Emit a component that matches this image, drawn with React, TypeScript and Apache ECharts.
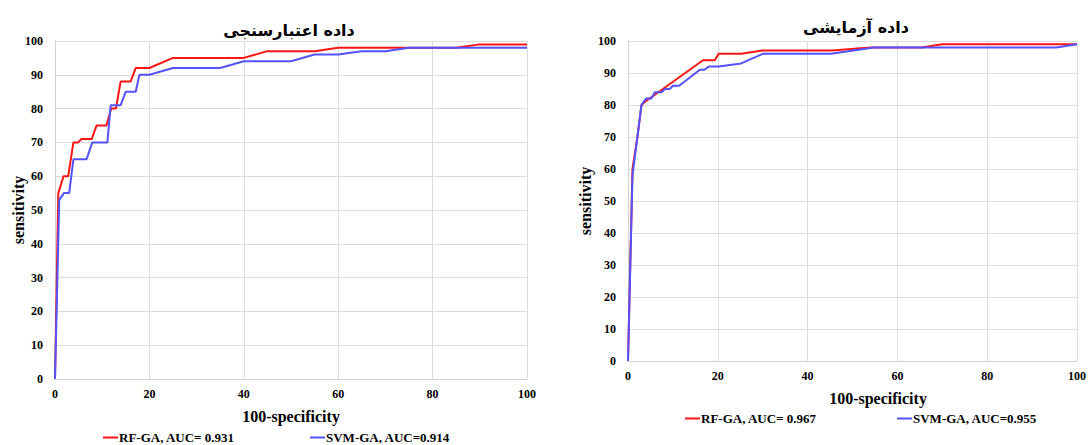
import React, { useEffect, useRef } from "react";
import * as echarts from "echarts";

const xTicks = [0, 20, 40, 60, 80, 100];
const titles = ["داده اعتبارسنجی", "داده آزمایشی"];
const xTitle = "100-specificity";
const yTitle = "sensitivity";

const seriesNames = [
  "RF-GA, AUC= 0.931",
  "SVM-GA, AUC=0.914",
  "RF-GA, AUC= 0.967",
  "SVM-GA, AUC=0.955",
];

// validation (left)
const rfValX = [0, 0.7, 1.8, 2.8, 3.9, 4.9, 5.6, 7.8, 8.8, 10.9, 11.9, 12.9, 13.9, 16, 17.1, 20, 25, 40, 45, 55, 60, 85, 90, 100];
const rfValY = [0, 55, 60, 60, 70, 70, 71, 71, 75, 75, 80, 80, 88, 88, 92, 92, 95, 95, 97, 97, 98, 98, 99, 99];
const svmValX = [0, 0.9, 1.9, 3, 3.9, 6.7, 7.9, 11.1, 11.8, 13.9, 15, 17.1, 17.9, 20, 25, 35, 40, 50, 55, 60, 65, 70, 75, 100];
const svmValY = [0, 53, 55, 55, 65, 65, 70, 70, 81, 81, 85, 85, 90, 90, 92, 92, 94, 94, 96, 96, 97, 97, 98, 98];

// test (right)
const rfTestX = [0, 1, 2.1, 3, 3.8, 16.7, 19.3, 20.2, 25.2, 30, 45.5, 54, 65.4, 70, 100];
const rfTestY = [0, 60, 70, 80, 81, 94, 94, 96, 96, 97, 97, 98, 98, 99, 99];
const svmTestX = [0, 1, 3, 4, 5.2, 6, 7.5, 8.2, 9.3, 10, 11.4, 16, 17, 18, 20.2, 25.2, 30, 45.2, 54.8, 95.4, 100];
const svmTestY = [0, 58, 80, 82, 82, 84, 84, 85, 85, 86, 86, 91, 91, 92, 92, 93, 96, 96, 98, 98, 99];

const RED = "#ff1414";
const BLUE = "#5252ff";
const SERIF = "'Liberation Serif', 'Times New Roman', serif";
const ARABIC = "'DejaVu Sans', sans-serif";

const zip = (xs: number[], ys: number[]) => xs.map((x, i) => [x, ys[i]]);

export default function App() {
  const ref = useRef<HTMLDivElement>(null);
  useEffect(() => {
    if (!ref.current) return;
    const chart = echarts.init(ref.current, null, { renderer: "svg" });
    const grids = [
      { left: 55, right: 562, top: 41, bottom: 66 },
      { left: 628, right: 10, top: 41, bottom: 84 },
    ];
    const mkX = (gi: number) => ({
      type: "value",
      gridIndex: gi,
      min: 0,
      max: 100,
      interval: 20,
      axisLine: { show: true, lineStyle: { color: "#d0d0d0" } },
      axisTick: { show: false },
      splitLine: { show: true, lineStyle: { color: "#dcdcdc" } },
      axisLabel: { color: "#000", fontFamily: SERIF, fontWeight: "bold", fontSize: 12, margin: 9 },
    });
    const mkY = (gi: number) => ({
      type: "value",
      gridIndex: gi,
      min: 0,
      max: 100,
      interval: 10,
      axisLine: { show: true, lineStyle: { color: "#d0d0d0" } },
      axisTick: { show: false },
      splitLine: { show: true, lineStyle: { color: "#dcdcdc" } },
      axisLabel: { color: "#000", fontFamily: SERIF, fontWeight: "bold", fontSize: 12, margin: 12 },
    });
    const mkSeries = (name: string, data: number[][], color: string, gi: number) => ({
      type: "line",
      name,
      xAxisIndex: gi,
      yAxisIndex: gi,
      data,
      showSymbol: false,
      symbol: "none",
      lineStyle: { color, width: 2 },
      itemStyle: { color },
    });
    const mkLegend = (name: string, left: number, top: number) => ({
      data: [name],
      left,
      top,
      icon: "rect",
      itemWidth: 15,
      itemHeight: 2,
      padding: 0,
      textStyle: { fontFamily: SERIF, fontWeight: "bold", fontSize: 13, color: "#000", padding: [0, 0, 0, -4] },
    });
    chart.setOption({
      animation: false,
      backgroundColor: "#fff",
      grid: grids,
      xAxis: [mkX(0), mkX(1)],
      yAxis: [mkY(0), mkY(1)],
      title: [
        { text: titles[0], left: 284, top: 17, textAlign: "center", textStyle: { fontFamily: ARABIC, fontWeight: "bold", fontSize: 16, color: "#000" } },
        { text: titles[1], left: 851, top: 14, textAlign: "center", textStyle: { fontFamily: ARABIC, fontWeight: "bold", fontSize: 16, color: "#000" } },
      ],
      legend: [
        mkLegend(seriesNames[0], 103, 431),
        mkLegend(seriesNames[1], 310, 431),
        mkLegend(seriesNames[2], 685, 412),
        mkLegend(seriesNames[3], 897, 412),
      ],
      graphic: [
        { type: "text", x: 291, y: 416, style: { text: xTitle, align: "center", verticalAlign: "middle", font: `bold 16px ${SERIF}`, fill: "#000" } },
        { type: "text", x: 878, y: 398, style: { text: xTitle, align: "center", verticalAlign: "middle", font: `bold 16px ${SERIF}`, fill: "#000" } },
        { type: "text", x: 18, y: 210, rotation: Math.PI / 2, style: { text: yTitle, align: "center", verticalAlign: "middle", font: `bold 16px ${SERIF}`, fill: "#000" } },
        { type: "text", x: 585, y: 201, rotation: Math.PI / 2, style: { text: yTitle, align: "center", verticalAlign: "middle", font: `bold 16px ${SERIF}`, fill: "#000" } },
      ],
      series: [
        mkSeries(seriesNames[0], zip(rfValX, rfValY), RED, 0),
        mkSeries(seriesNames[1], zip(svmValX, svmValY), BLUE, 0),
        mkSeries(seriesNames[2], zip(rfTestX, rfTestY), RED, 1),
        mkSeries(seriesNames[3], zip(svmTestX, svmTestY), BLUE, 1),
      ],
    });
    return () => chart.dispose();
  }, []);
  return (
    <div
      ref={ref}
      style={{ position: "fixed", left: 0, top: 0, width: 1089, height: 445, background: "#fff" }}
    />
  );
}
